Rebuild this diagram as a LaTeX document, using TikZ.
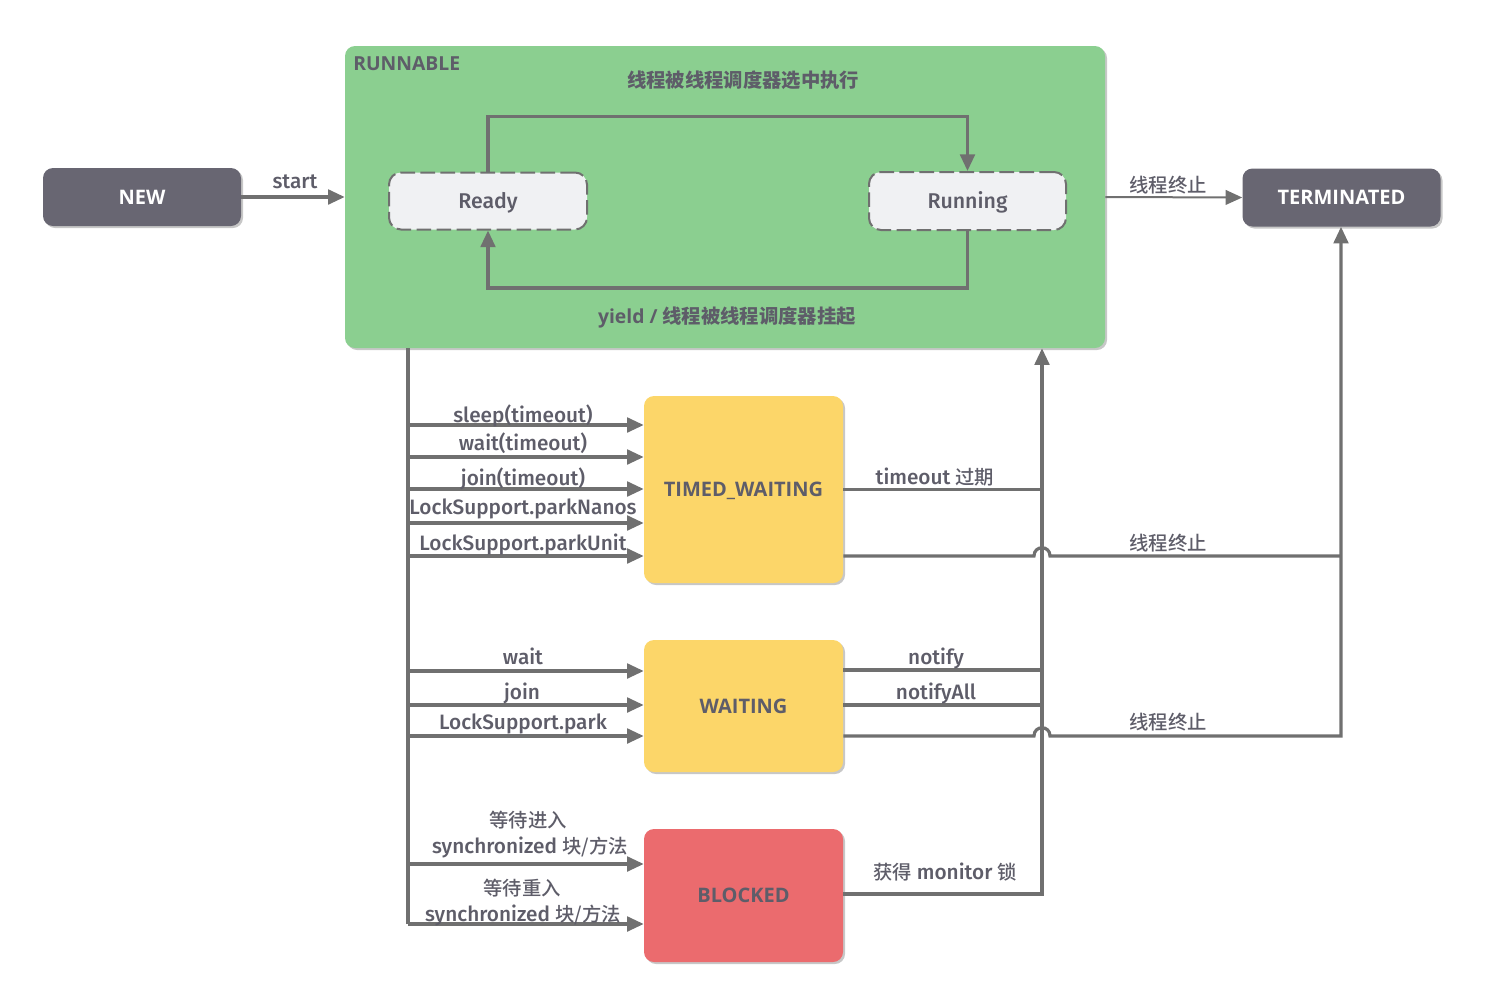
\documentclass[tikz,border=0pt]{standalone}
\usepackage{fontspec}
\usetikzlibrary{arrows.meta,shadows}
\setmainfont{Open Sans}
\IfFontExistsTF{Noto Sans Medium}{\newfontfamily\lat{Noto Sans Medium}}{%
  \IfFontExistsTF{Fira Sans Medium}{\newfontfamily\lat{Fira Sans Medium}}{\newfontfamily\lat{Open Sans}}}
\IfFontExistsTF{Noto Sans CJK SC Medium}{\newfontfamily\zhf{Noto Sans CJK SC Medium}}{\newfontfamily\zhf{Noto Sans CJK SC}}
\newfontfamily\zhbf{Noto Sans CJK SC}
\newcommand\zh[1]{{\zhf\fontsize{14.5pt}{16pt}\selectfont #1}}
\newcommand\zhb[1]{{\zhbf\bfseries #1}}
\definecolor{txt}{HTML}{5E5D69}
\definecolor{lc}{HTML}{707070}
\definecolor{newc}{HTML}{686672}
\definecolor{grn}{HTML}{8BCF90}
\definecolor{ylw}{HTML}{FCD669}
\definecolor{redc}{HTML}{EB6B6E}
\definecolor{rdy}{HTML}{F0F1F3}
\begin{document}
\begin{tikzpicture}[x=0.75pt,y=-0.75pt,
  font=\lat\fontsize{15.6pt}{17pt}\selectfont,
  box/.style={rectangle, rounded corners=7.5pt, inner sep=0pt, text=txt, font=\rmfamily\fontsize{15pt}{17pt}\selectfont\bfseries,
    text height=10.5pt, text depth=0pt,
    drop shadow={shadow xshift=1.5pt,shadow yshift=-1.5pt,opacity=0.22,fill=black}},
  dbox/.style={rectangle, rounded corners=9pt, inner sep=0pt, text=txt, fill=rdy, draw=lc, line width=1.5pt,
    font=\lat\fontsize{16pt}{18pt}\selectfont,
    dash pattern=on 11pt off 4pt, text height=10.5pt, text depth=0pt},
  lbl/.style={inner sep=0pt, text=txt, text height=10.5pt, text depth=0pt},
  ttl/.style={lbl, font=\rmfamily\fontsize{14.5pt}{16pt}\selectfont\bfseries},
  line/.style={draw=lc, line width=2.4pt},
  arr/.style={line, -{Triangle[length=12.5pt,width=11pt]}},
  thinarr/.style={draw=lc, line width=1.5pt, -{Triangle[length=12.5pt,width=11pt]}}
]
\useasboundingbox (0,0) rectangle (1486,1007);

% boxes
\node[box, fill=newc, text=white, minimum width=148.5pt, minimum height=43.5pt] (new) at (142,197) {NEW};
\node[box, fill=grn, minimum width=570pt, minimum height=226.5pt] (run) at (725,197) {};
\node[box, fill=newc, text=white, minimum width=148.5pt, minimum height=43.5pt] (term) at (1341.5,197.5) {TERMINATED};
\node[dbox, minimum width=148.5pt, minimum height=42.75pt] (ready) at (488,201) {Ready};
\node[dbox, minimum width=147.75pt, minimum height=43.5pt] (running) at (967.5,201) {Running};
\node[box, fill=ylw, minimum width=149.25pt, minimum height=140.25pt] (tw) at (743.5,489.5) {TIMED\_WAITING};
\node[box, fill=ylw, minimum width=149.25pt, minimum height=99pt] (w) at (743.5,706) {WAITING};
\node[box, fill=redc, minimum width=149.25pt, minimum height=99.75pt] (b) at (743.5,895.5) {BLOCKED};

% runnable texts
\node[ttl, anchor=west] (runlbl) at (353,63) {RUNNABLE};
\node[ttl] (sel) at (743,80) {\zhb{线程被线程调度器选中执行}};
\node[ttl] (yld) at (727,316) {yield / \zhb{线程被线程调度器挂起}};

% inner loops
\draw[arr] (ready.north) -- ++(0,-55) -| (running.north);
\draw[arr] (running.south) -- ++(0,57) -| (ready.south);

% start and terminate
\draw[arr] (new) -- (run);
\node[lbl] (startl) at (295,181) {start};
\draw[thinarr] (run.east) -- (term.west);
\node[lbl] (t1l) at (1168,185) {\zh{线程终止}};

% outgoing trunk
\coordinate (t0) at (408,348);
\coordinate (t1) at (408,924);
\draw[line] (t0) -- (t1);
\foreach \yy in {425,457,489,523,556} {\draw[arr] (t0 |- 0,\yy) -- (tw.west |- 0,\yy);}
\foreach \yy in {671,705,736} {\draw[arr] (t0 |- 0,\yy) -- (w.west |- 0,\yy);}
\draw[arr] (t0 |- 0,864) -- (b.west |- 0,864);
\draw[arr] (t1) -- (b.west |- t1);

\node[lbl] (l1) at (523,415) {sleep(timeout)};
\node[lbl] (l2) at (523,443) {wait(timeout)};
\node[lbl] (l3) at (523,478) {join(timeout)};
\node[lbl] (l4) at (523,507) {LockSupport.parkNanos};
\node[lbl] (l5) at (523,543) {LockSupport.parkUnit};
\node[lbl] (l6) at (523,657) {wait};
\node[lbl] (l7) at (522,692) {join};
\node[lbl] (l8) at (523,722) {LockSupport.park};
\node[lbl] (l9) at (528,820) {\zh{等待进入}};
\node[lbl] (l10) at (530,846) {synchronized \zh{块/方法}};
\node[lbl] (l11) at (522,888) {\zh{等待重入}};
\node[lbl] (l12) at (523,914) {synchronized \zh{块/方法}};

% return trunk
\coordinate (r1) at (1042,894);
\draw[arr] (b.east |- r1) -- (r1) -- (r1 |- run.south);
\draw[line] (tw.east) -- (tw.east -| r1);
\draw[line] (w.east |- 0,670) -- (r1 |- 0,670);
\draw[line] (w.east |- 0,705) -- (r1 |- 0,705);
\node[lbl] (m1) at (935,477) {timeout \zh{过期}};
\node[lbl] (m2) at (936,657) {notify};
\node[lbl] (m3) at (936,692) {notifyAll};
\node[lbl] (m4) at (945,872) {\zh{获得} monitor \zh{锁}};

% terminate paths with hops
\coordinate (q) at (1341,736);
\draw[line] (tw.east |- 0,556) -- (1034,556) .. controls (1034,545) and (1050,545) .. (1050,556) -- (q |- 0,556);
\draw[arr] (w.east |- q) -- (1034,736) .. controls (1034,725) and (1050,725) .. (1050,736) -- (q) -- (q |- term.south);
\node[lbl] (t2l) at (1168,543) {\zh{线程终止}};
\node[lbl] (t3l) at (1168,722) {\zh{线程终止}};
\end{tikzpicture}
\end{document}
